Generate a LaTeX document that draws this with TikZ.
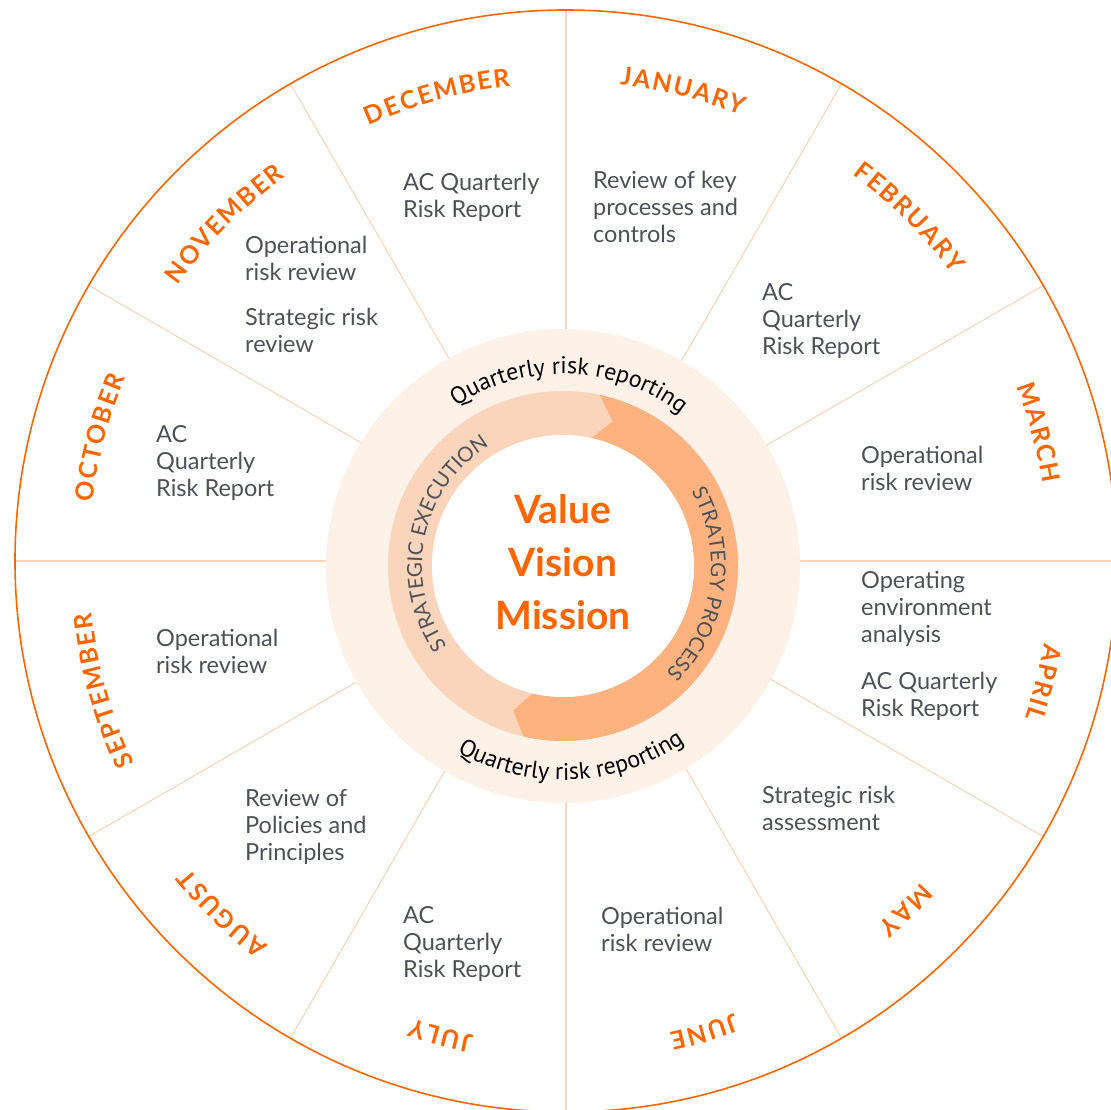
\documentclass[tikz,border=0pt]{standalone}
\usepackage{fontspec}
\setmainfont{Lato}
\newfontfamily\arcfont{PT Sans}
\usetikzlibrary{decorations.text}

\definecolor{accent}{HTML}{FF6600}
\definecolor{spoke}{HTML}{FBD5B8}
\definecolor{discfill}{HTML}{FDF1E8}
\definecolor{ringlight}{HTML}{FAD5BB}
\definecolor{ringdark}{HTML}{FDB27F}
\definecolor{bodygray}{HTML}{4D5156}

% month names: bold capitals with extra tracking, one boxed letter at a time
\newcommand\monthstyle{\bfseries\fontsize{25}{29}\selectfont}
\newcommand\monthgap{1.8pt}
\makeatletter
\newcommand\spreadword[1]{\gdef\spreadout{|\monthstyle|}\spread@loop#1\@nil}
\def\spread@loop#1#2\@nil{%
  \ifx\relax#2\relax
    \g@addto@macro\spreadout{{#1}}%
  \else
    \g@addto@macro\spreadout{{#1\kern\monthgap}}%
    \spread@loop#2\@nil
  \fi}
\makeatother

\tikzset{
  spokeline/.style={draw=spoke, line width=1.1pt},
  rim/.style={draw=accent, line width=1.6pt},
  note/.style={anchor=base west, align=left, inner sep=0pt, text=bodygray,
    font=\fontsize{23.5}{27}\selectfont},
  core/.style={anchor=base, align=center, inner sep=0pt, text=accent,
    font=\bfseries\fontsize{39}{53}\selectfont},
}

\begin{document}
\begin{tikzpicture}[x=1pt, y=1pt]
  \useasboundingbox (-566,-548) rectangle (545,561);

  % spokes and outer rim of the calendar wheel
  \foreach \a in {0,30,...,330}
    \draw[spokeline] (0,0) -- (\a:551);
  \draw[rim] (0,0) circle (551);

  % month names along the rim, read clockwise
  \foreach \m/\a/\r in {DECEMBER/105.5/478, JANUARY/76/479, FEBRUARY/45/481,
      MARCH/15.2/483, APRIL/-14.3/485, MAY/-45.8/479, JUNE/-73.6/483,
      JULY/-104.8/483, AUGUST/-134.3/486, SEPTEMBER/-164.3/477,
      OCTOBER/165.2/477, NOVEMBER/135.4/476}
  {
    \expandafter\spreadword\expandafter{\m}
    \path[decorate, decoration={text along path, text align=center,
        text color=accent, text/.expand once=\spreadout}]
      (\a+30:\r) arc[start angle=\a+30, end angle=\a-30, radius=\r];
  }

  % activities of each month (anchored at the last line's baseline)
  \node[note] (dec)  at (-163, 343)  {AC Quarterly\\Risk Report};
  \node[note] (jan)  at (27, 318)    {Review of key\\processes and\\controls};
  \node[note] (feb)  at (196, 207)   {AC\\Quarterly\\Risk Report};
  \node[note] (mar)  at (295, 71)    {Operational\\risk review};
  \node[note] (apra) at (295, -81.6) {Operating\\environment\\analysis};
  \node[note] (aprb) at (295, -155)  {AC Quarterly\\Risk Report};
  \node[note] (may)  at (196, -269)  {Strategic risk\\assessment};
  \node[note] (jun)  at (35, -390)   {Operational\\risk review};
  \node[note] (jul)  at (-163, -416) {AC\\Quarterly\\Risk Report};
  \node[note] (aug)  at (-321, -299) {Review of\\Policies and\\Principles};
  \node[note] (sep)  at (-410, -112) {Operational\\risk review};
  \node[note] (oct)  at (-410, 65)   {AC\\Quarterly\\Risk Report};
  \node[note] (nova) at (-321, 280)  {Operational\\risk review};
  \node[note] (novb) at (-321, 208)  {Strategic risk\\review};

  % hub: reporting band, strategy cycle and core statement
  \begin{scope}[shift={(-3,-5)}]
    \fill[discfill] (0,0) circle (237);
    \fill[ringlight] (0,0) circle (175);
    \fill[ringdark] (78:175) arc[start angle=78, end angle=-103, radius=175]
      -- (-109:153) -- (-103.5:131)
      arc[start angle=-103.5, end angle=77.5, radius=131]
      -- (71:153) -- cycle;
    \fill[white] (0,0) circle (131);

    \path[decorate, decoration={text along path, text align=center,
        text={|\arcfont\fontsize{24}{28}\selectfont|Quarterly risk reporting}}]
      (150:192) arc[start angle=150, end angle=26, radius=192];
    \path[decorate, decoration={text along path, text align=center,
        text={|\arcfont\fontsize{24}{28}\selectfont|Quarterly risk reporting}}]
      (210.5:214) arc[start angle=210.5, end angle=334.5, radius=214];

    \path[decorate, decoration={text along path, text align=center,
        text color=bodygray,
        text={|\fontsize{20.5}{24}\selectfont|STRATEGIC EXECUTION}}]
      (228:141) arc[start angle=228, end angle=108, radius=141];
    \path[decorate, decoration={text along path, text align=center,
        text color=bodygray,
        text={|\fontsize{20.5}{24}\selectfont|STRATEGY PROCESS}}]
      (52:148) arc[start angle=52, end angle=-68, radius=148];

    \node[core] (vvm) at (0, -63) {Value\\Vision\\Mission};
  \end{scope}
\end{tikzpicture}
\end{document}
